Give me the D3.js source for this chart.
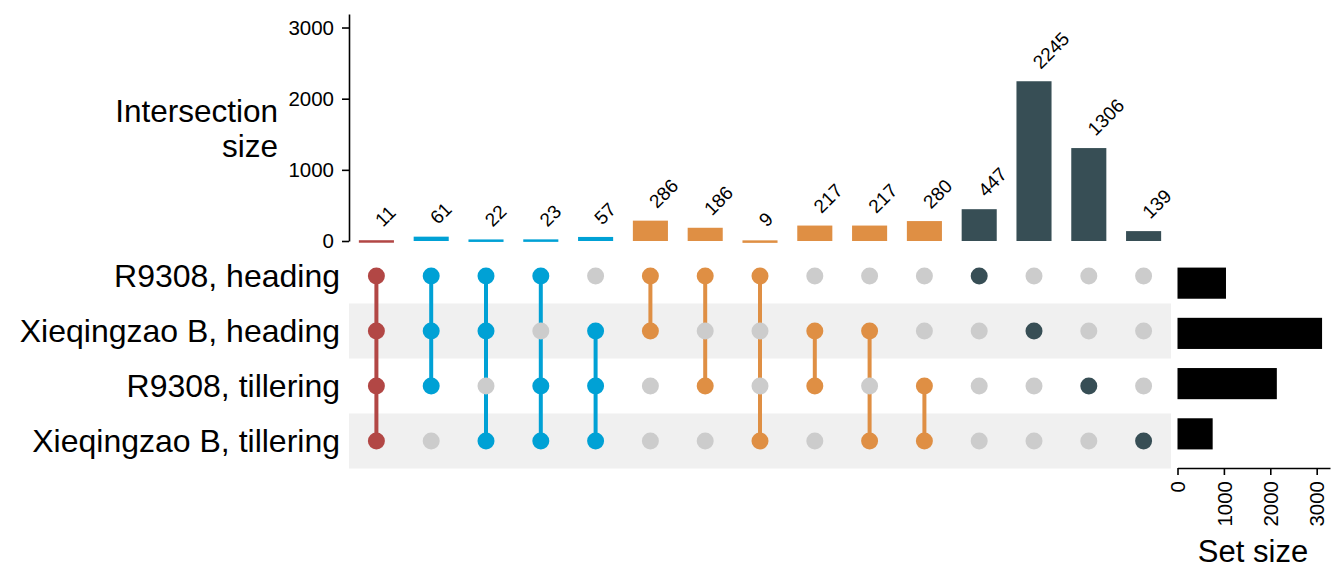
<!DOCTYPE html>
<html>
<head>
<meta charset="utf-8">
<script src="https://cdn.jsdelivr.net/npm/d3@7"></script>
<style>
  body { margin: 0; background: #fff; }
  svg { font-family: "Liberation Sans", Arial, Helvetica, sans-serif; }
</style>
</head>
<body>
<div id="chart"></div>
<script>
// sets, top to bottom
const sets = ["R9308, heading", "Xieqingzao B, heading", "R9308, tillering", "Xieqingzao B, tillering"];
const setSizes = [1045, 3116, 2141, 758];

// intersections, left to right
const intersectionSizes = [11, 61, 22, 23, 57, 286, 186, 9, 217, 217, 280, 447, 2245, 1306, 139];
const memberships = [
  [0, 1, 2, 3],
  [0, 1, 2], [0, 1, 3], [0, 2, 3], [1, 2, 3],
  [0, 1], [0, 2], [0, 3], [1, 2], [1, 3], [2, 3],
  [0], [1], [2], [3]
];

const yTicks = [0, 1000, 2000, 3000];
const setTicks = [0, 1000, 2000, 3000];

// colour by degree of intersection
const degreeColors = {4: "#B24745", 3: "#00A1D5", 2: "#DF8F44", 1: "#374E55"};
const inactive = "#CCCCCC";

const W = 1344, H = 576;
const svg = d3.select("#chart").append("svg")
  .attr("width", W)
  .attr("height", H);

const cols = d3.range(intersectionSizes.length);

const x = d3.scaleBand()
  .domain(cols)
  .range([349, 1171])
  .paddingInner(0.36)
  .paddingOuter(0.18);

const rowY = d3.scaleBand()
  .domain(d3.range(sets.length))
  .range([248.5, 468.5]);

const y = d3.scaleLinear()
  .domain([0, 3190])
  .range([241, 14]);

const sx = d3.scaleLinear()
  .domain([0, 3287])
  .range([1177.5, 1330]);

const cx = i => x(i) + x.bandwidth() / 2;
const cy = r => rowY(r) + rowY.bandwidth() / 2;

// ---- intersection size bars ----
const yAxis = svg.append("g")
  .attr("transform", "translate(349,0)")
  .call(d3.axisLeft(y).tickValues(yTicks).tickFormat(d3.format("d"))
    .tickSize(7).tickSizeOuter(0).tickPadding(8));
yAxis.select(".domain").attr("stroke", "#000").attr("stroke-width", 1.6);
yAxis.selectAll(".tick line").attr("stroke-width", 1.6);
yAxis.selectAll("text").attr("font-size", 20.5).attr("fill", "#000").attr("font-family", null);

svg.append("text")
  .attr("x", 278)
  .attr("y", 111)
  .attr("text-anchor", "end")
  .attr("dy", "0.35em")
  .attr("font-size", 31.5)
  .text("Intersection");
svg.append("text")
  .attr("x", 278)
  .attr("y", 146)
  .attr("text-anchor", "end")
  .attr("dy", "0.35em")
  .attr("font-size", 31.5)
  .text("size");

svg.append("g")
  .selectAll("rect")
  .data(cols)
  .join("rect")
    .attr("x", i => x(i))
    .attr("width", x.bandwidth())
    .attr("y", i => y(intersectionSizes[i]))
    .attr("height", i => Math.max(y(0) - y(intersectionSizes[i]), 2.5))
    .attr("fill", i => degreeColors[memberships[i].length]);

svg.append("g")
  .selectAll("text")
  .data(cols)
  .join("text")
    .attr("transform", i => `translate(${cx(i) + 2},${Math.min(y(intersectionSizes[i]), 239) - 16}) rotate(-45)`)
    .attr("font-size", 19)
    .attr("dy", "0.35em")
    .text(i => intersectionSizes[i]);

// ---- matrix ----
svg.append("g")
  .selectAll("rect")
  .data([1, 3])
  .join("rect")
    .attr("x", 349)
    .attr("width", 1171 - 349)
    .attr("y", r => rowY(r))
    .attr("height", rowY.bandwidth())
    .attr("fill", "#F0F0F0");

const matrix = svg.append("g");
cols.forEach(i => {
  const m = memberships[i];
  const col = degreeColors[m.length];
  if (m.length > 1) {
    matrix.append("line")
      .attr("x1", cx(i)).attr("x2", cx(i))
      .attr("y1", cy(d3.min(m))).attr("y2", cy(d3.max(m)))
      .attr("stroke", col)
      .attr("stroke-width", 4);
  }
  matrix.selectAll(null)
    .data(d3.range(sets.length))
    .join("circle")
      .attr("cx", cx(i))
      .attr("cy", r => cy(r))
      .attr("r", 8.5)
      .attr("fill", r => m.includes(r) ? col : inactive);
});

svg.append("g")
  .selectAll("text")
  .data(sets)
  .join("text")
    .attr("x", 340)
    .attr("y", (d, r) => cy(r))
    .attr("dy", "0.35em")
    .attr("text-anchor", "end")
    .attr("font-size", 32)
    .text(d => d);

// ---- set size bars ----
const setBand = d3.scaleBand()
  .domain(d3.range(sets.length))
  .range([248.5, 468.5])
  .padding(0.38);

svg.append("g")
  .selectAll("rect")
  .data(setSizes)
  .join("rect")
    .attr("x", sx(0))
    .attr("y", (d, r) => setBand(r))
    .attr("width", d => sx(d) - sx(0))
    .attr("height", setBand.bandwidth())
    .attr("fill", "#000");

const sAxis = svg.append("g")
  .attr("transform", "translate(0,468)")
  .call(d3.axisBottom(sx).tickValues(setTicks).tickFormat(d3.format("d"))
    .tickSize(7).tickSizeOuter(0));
sAxis.select(".domain").attr("stroke", "#000").attr("stroke-width", 1.6);
sAxis.selectAll(".tick line").attr("stroke-width", 1.6);
sAxis.selectAll("text")
  .attr("font-size", 20.5)
  .attr("fill", "#000")
  .attr("font-family", null)
  .attr("transform", "rotate(-90)")
  .attr("text-anchor", "end")
  .attr("x", -13)
  .attr("y", 0)
  .attr("dy", "0.35em");

svg.append("text")
  .attr("x", 1253)
  .attr("y", 551)
  .attr("dy", "0.35em")
  .attr("text-anchor", "middle")
  .attr("font-size", 31)
  .text("Set size");
</script>
</body>
</html>
